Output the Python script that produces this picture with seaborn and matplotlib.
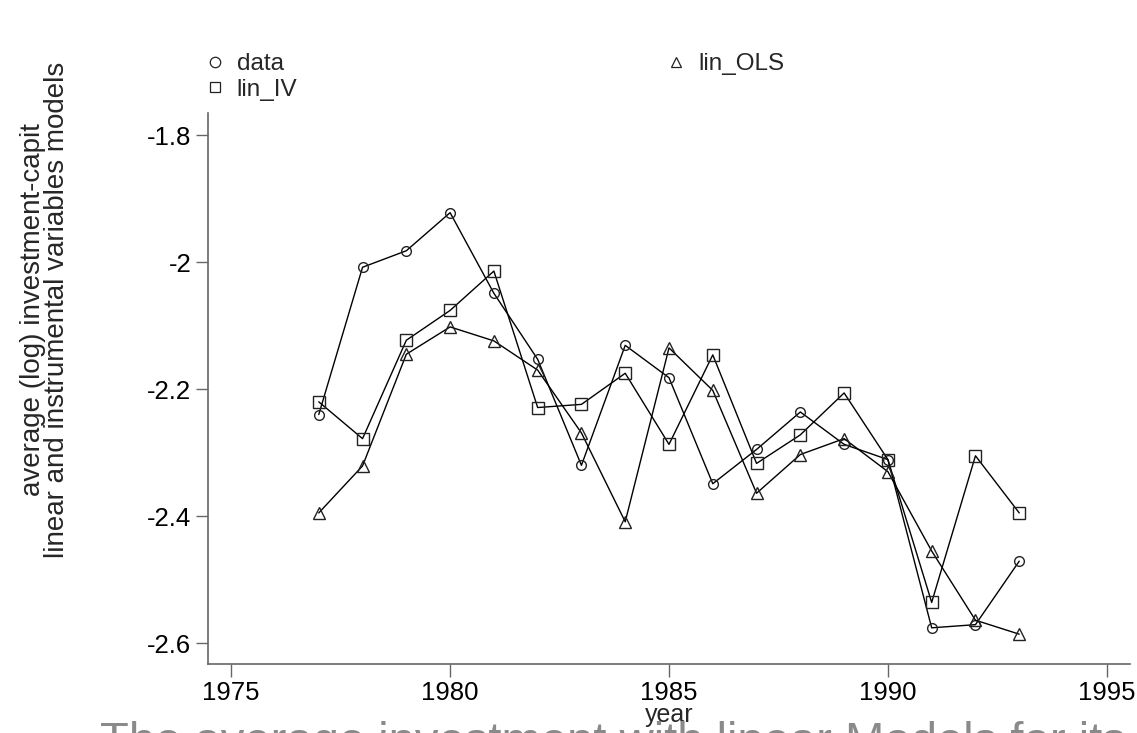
import numpy as np
import pandas as pd
import matplotlib
matplotlib.use("Agg")
import matplotlib.pyplot as plt
import seaborn as sns
from matplotlib.lines import Line2D

years = list(range(1977, 1994))
data = [-2.240, -2.008, -1.982, -1.922, -2.049, -2.153, -2.320, -2.131, -2.182,
        -2.349, -2.295, -2.236, -2.287, -2.311, -2.576, -2.571, -2.471]
lin_IV = [-2.220, -2.278, -2.123, -2.076, -2.014, -2.229, -2.224, -2.175, -2.287,
          -2.146, -2.317, -2.272, -2.206, -2.311, -2.536, -2.305, -2.395]
lin_OLS = [-2.395, -2.321, -2.145, -2.102, -2.124, -2.170, -2.269, -2.409, -2.135,
           -2.202, -2.364, -2.303, -2.278, -2.330, -2.455, -2.564, -2.586]
series_names = ["data", "lin_IV", "lin_OLS"]
x_ticks = [1975, 1980, 1985, 1990, 1995]
y_ticks = [-1.8, -2.0, -2.2, -2.4, -2.6]
y_tick_labels = ["-1.8", "-2", "-2.2", "-2.4", "-2.6"]

sns.set_style("white")
plt.rcParams["font.family"] = ["Liberation Sans", "DejaVu Sans"]

df = pd.DataFrame({"year": years * 3,
                   "value": data + lin_IV + lin_OLS,
                   "series": sum([[n] * len(years) for n in series_names], [])})

fig = plt.figure(figsize=(11.37, 7.33), dpi=100)
ax = fig.add_axes([208 / 1137, 1 - 664 / 733, (1130 - 208) / 1137, (664 - 113) / 733])

markers = {"data": "o", "lin_IV": "s", "lin_OLS": "^"}
msizes = {"data": 7.0, "lin_IV": 8.0, "lin_OLS": 8.5}
for name in series_names:
    sub = df[df["series"] == name]
    sns.lineplot(data=sub, x="year", y="value", ax=ax, color="black", lw=1.0,
                 marker=markers[name], markersize=msizes[name],
                 markerfacecolor="none", markeredgecolor="#222222",
                 markeredgewidth=1.0, legend=False)

ax.set_xlim(1974.47, 1995.53)
ax.set_ylim(-2.633, -1.765)
ax.set_xticks(x_ticks)
ax.set_xticklabels([str(t) for t in x_ticks])
ax.set_yticks(y_ticks)
ax.set_yticklabels(y_tick_labels)
for s in ["top", "right"]:
    ax.spines[s].set_visible(False)
for s in ["left", "bottom"]:
    ax.spines[s].set_color("#666666")
    ax.spines[s].set_linewidth(1.2)
ax.tick_params(axis="both", direction="out", length=9, width=1.0, color="#666666",
               labelsize=18.5, pad=3, left=True, bottom=True, labelcolor="black")
ax.set_xlabel("year", fontsize=18, labelpad=-1)
ax.set_ylabel("")

fig.text(33 / 1137, 1 - 310 / 733, "average (log) investment-capit", rotation=90,
         ha="center", va="center", fontsize=20)
fig.text(57 / 1137, 1 - 310 / 733, "linear and instrumental variables models",
         rotation=90, ha="center", va="center", fontsize=20)

handles = [Line2D([], [], ls="none", marker=markers[n], markersize=7.5,
                  markerfacecolor="none", markeredgecolor="#222222", markeredgewidth=0.9)
           for n in series_names]
fig.legend(handles, series_names, ncol=2, loc="upper left",
           bbox_to_anchor=(205 / 1137, 1 - 53 / 733), frameon=False, fontsize=17.5,
           handlelength=0.8, handletextpad=0.5, columnspacing=15.2,
           labelspacing=0.15, borderpad=0, borderaxespad=0)

fig.text(100 / 1137, 1 - 721 / 733, "The average investment with linear Models for its fit",
         ha="left", va="top", fontsize=34, color="#8a8a8a")

fig.savefig("out.png", dpi=100)
